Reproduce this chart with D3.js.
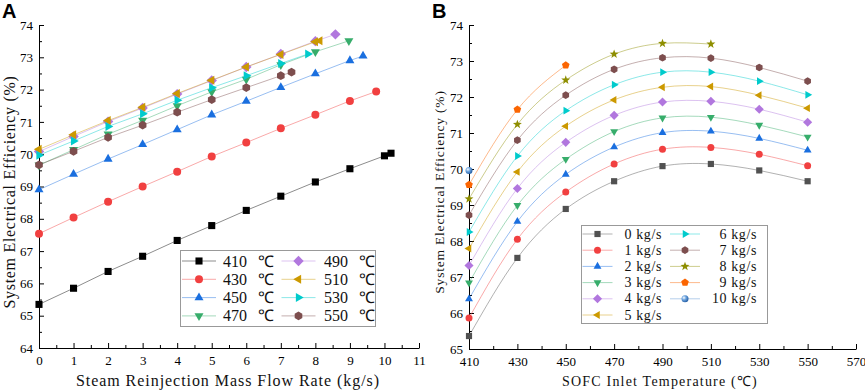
<!DOCTYPE html>
<html>
<head>
<meta charset="utf-8">
<script src="https://cdn.jsdelivr.net/npm/d3@7"></script>
<style>
body { margin: 0; background: #fff; }
.tick text { font-family: "Liberation Serif", serif; fill: #000; }
.serif { font-family: "Liberation Serif", serif; fill: #111; }
</style>
</head>
<body>
<svg id="chart" width="865" height="391"></svg>
<script>
// ---- panel A : efficiency vs steam reinjection flow, one series per SOFC inlet temperature
var tempLabels = ["410", "430", "450", "470", "490", "510", "530", "550"];
var flowA = [
    [0, 1, 2, 3, 4, 5, 6, 7, 8, 9, 10, 10.19],
    [0, 1, 2, 3, 4, 5, 6, 7, 8, 9, 9.76],
    [0, 1, 2, 3, 4, 5, 6, 7, 8, 9, 9.38],
    [0, 1, 2, 3, 4, 5, 6, 7, 8, 8.97],
    [0, 1, 2, 3, 4, 5, 6, 7, 8, 8.58],
    [0, 1, 2, 3, 4, 5, 6, 7, 8, 8.13],
    [0, 1, 2, 3, 4, 5, 6, 7, 7.78],
    [0, 1, 2, 3, 4, 5, 6, 7, 7.31]
];
var effA = [
    [65.35, 65.85, 66.37, 66.84, 67.33, 67.79, 68.26, 68.70, 69.14, 69.55, 69.95, 70.03],
    [67.54, 68.04, 68.53, 69.00, 69.46, 69.93, 70.36, 70.80, 71.22, 71.65, 71.94],
    [68.90, 69.38, 69.85, 70.30, 70.76, 71.22, 71.64, 72.07, 72.49, 72.90, 73.04],
    [69.66, 70.14, 70.62, 71.05, 71.50, 71.93, 72.32, 72.77, 73.17, 73.51],
    [70.08, 70.55, 71.01, 71.43, 71.86, 72.28, 72.70, 73.10, 73.50, 73.71],
    [70.15, 70.60, 71.04, 71.45, 71.88, 72.29, 72.70, 73.09, 73.48, 73.51],
    [69.97, 70.41, 70.86, 71.25, 71.67, 72.06, 72.43, 72.81, 73.10],
    [69.67, 70.09, 70.52, 70.90, 71.30, 71.69, 72.06, 72.43, 72.54]
];

// ---- panel B : efficiency vs SOFC inlet temperature, one series per flow rate
var inletTemps = [410, 430, 450, 470, 490, 510, 530, 550];
var flowLabels = ["0", "1", "2", "3", "4", "5", "6", "7", "8", "9", "10"];
var effB = [
    [65.36, 67.53, 68.89, 69.66, 70.08, 70.14, 69.96, 69.66],
    [65.86, 68.05, 69.36, 70.14, 70.55, 70.60, 70.41, 70.09],
    [66.39, 68.54, 69.85, 70.61, 71.01, 71.05, 70.85, 70.52],
    [66.84, 68.99, 70.27, 71.04, 71.42, 71.44, 71.22, 70.89],
    [67.32, 69.46, 70.74, 71.49, 71.86, 71.88, 71.66, 71.30],
    [67.79, 69.92, 71.19, 71.92, 72.27, 72.29, 72.05, 71.69],
    [68.25, 70.36, 71.62, 72.34, 72.69, 72.69, 72.44, 72.06],
    [68.72, 70.80, 72.05, 72.77, 73.09, 73.08, 72.82, 72.44],
    [69.17, 71.24, 72.47, 73.19, 73.49, 73.47],
    [69.56, 71.65, 72.88],
    [69.96]
];

// styles
var colorsA = ["#000000", "#F14040", "#1A6FDF", "#37AD6B", "#B177DE", "#CC9900", "#00CBCC", "#7D4E4E"];
var shapesA = ["square", "circle", "up", "down", "diamond", "left", "right", "hexagon"];
var colorsB = ["#515151", "#F14040", "#1A6FDF", "#37AD6B", "#B177DE", "#CC9900", "#00CBCC", "#7D4E4E", "#8E8E00", "#FB6501", "#5B93D3"];
var shapesB = ["square", "circle", "up", "down", "diamond", "left", "right", "hexagon", "star", "pentagon", "sphere"];

var svg = d3.select("#chart");

// sphere gradient for the 10 kg/s marker
var grad = svg.append("defs").append("radialGradient").attr("id", "ball")
    .attr("cx", "35%").attr("cy", "35%").attr("r", "65%");
grad.append("stop").attr("offset", "0%").attr("stop-color", "#ffffff");
grad.append("stop").attr("offset", "45%").attr("stop-color", "#6fa6e0");
grad.append("stop").attr("offset", "100%").attr("stop-color", "#2a63a8");

function poly(n, r, start) {
    var pts = [];
    for (var i = 0; i < n; i++) {
        var a = start + i * 2 * Math.PI / n;
        pts.push([r * Math.cos(a), r * Math.sin(a)]);
    }
    return "M" + pts.map(function (p) { return p[0].toFixed(2) + "," + p[1].toFixed(2); }).join("L") + "Z";
}

function markerPath(shape, r) {
    var D = Math.PI / 180;
    if (shape == "square") return poly(4, r * 1.25, 45 * D);
    if (shape == "circle" || shape == "sphere") return d3.symbol(d3.symbolCircle, Math.PI * r * r)();
    if (shape == "up") return poly(3, r * 1.3, -90 * D);
    if (shape == "down") return poly(3, r * 1.3, 90 * D);
    if (shape == "left") return poly(3, r * 1.3, 180 * D);
    if (shape == "right") return poly(3, r * 1.3, 0);
    if (shape == "diamond") return poly(4, r * 1.3, 0);
    if (shape == "hexagon") return poly(6, r * 1.1, -90 * D);
    if (shape == "pentagon") return poly(5, r * 1.15, -90 * D);
    if (shape == "star") {
        var pts = [];
        for (var i = 0; i < 10; i++) {
            var rr = i % 2 == 0 ? r * 1.35 : r * 0.55;
            var a = -90 * D + i * 36 * D;
            pts.push([rr * Math.cos(a), rr * Math.sin(a)]);
        }
        return "M" + pts.map(function (p) { return p[0].toFixed(2) + "," + p[1].toFixed(2); }).join("L") + "Z";
    }
}

function drawMarker(g, shape, color, x, y, r) {
    g.append("path")
        .attr("d", markerPath(shape, r))
        .attr("transform", "translate(" + x + "," + y + ")")
        .attr("fill", shape == "sphere" ? "url(#ball)" : color);
}

function drawAxes(x, y, xMajor, xMinor, yMajor, yMinor, xFmt) {
    var g = svg.append("g");
    var bottom = y.range()[0], left = x.range()[0];
    g.append("g").attr("transform", "translate(0," + bottom + ")")
        .call(d3.axisBottom(x).tickValues(xMajor).tickSize(-5).tickSizeOuter(0).tickPadding(8).tickFormat(xFmt));
    g.append("g").attr("transform", "translate(0," + bottom + ")")
        .call(d3.axisBottom(x).tickValues(xMinor).tickSize(-3).tickFormat(""))
        .select(".domain").remove();
    g.append("g").attr("transform", "translate(" + left + ",0)")
        .call(d3.axisLeft(y).tickValues(yMajor).tickSize(-5).tickSizeOuter(0).tickPadding(6).tickFormat(d3.format("d")));
    g.append("g").attr("transform", "translate(" + left + ",0)")
        .call(d3.axisLeft(y).tickValues(yMinor).tickSize(-3).tickFormat(""))
        .select(".domain").remove();
    g.selectAll(".tick text").style("font-size", "13px");
    g.selectAll("line, path").attr("stroke", "#000").attr("stroke-width", 1);
    return g;
}

/* ---------------- panel A ---------------- */
var xA = d3.scaleLinear().domain([0, 11]).range([39, 419]);
var yA = d3.scaleLinear().domain([64, 74]).range([348, 25]);

drawAxes(xA, yA, d3.range(0, 12), d3.range(0.5, 11, 1), d3.range(64, 75), d3.range(64.5, 74, 1), d3.format("d"));

var lineA = d3.line().x(function (d) { return xA(d[0]); }).y(function (d) { return yA(d[1]); });
var plotA = svg.append("g");
effA.forEach(function (ys, i) {
    var pts = ys.map(function (v, j) { return [flowA[i][j], v]; });
    var s = plotA.append("g");
    s.append("path").attr("d", lineA(pts)).attr("fill", "none")
        .attr("stroke", colorsA[i]).attr("stroke-opacity", 0.45).attr("stroke-width", 1);
    pts.forEach(function (p) { drawMarker(s, shapesA[i], colorsA[i], xA(p[0]), yA(p[1]), 4); });
});

// legend A
var legA = svg.append("g");
legA.append("rect").attr("x", 180.5).attr("y", 250.5).attr("width", 195).attr("height", 76)
    .attr("fill", "#fff").attr("stroke", "#999");
tempLabels.forEach(function (t, i) {
    var col = Math.floor(i / 4), row = i % 4;
    var cx = col == 0 ? 199 : 298.5, ty = 261 + row * 18.3;
    legA.append("line").attr("x1", cx - 17).attr("x2", cx + 17).attr("y1", ty).attr("y2", ty)
        .attr("stroke", colorsA[i]).attr("stroke-opacity", 0.45);
    drawMarker(legA, shapesA[i], colorsA[i], cx, ty, 4);
    var tx = col == 0 ? 223 : 324;
    var txt = legA.append("text").attr("class", "serif").attr("y", ty + 5.5).style("font-size", "16px");
    txt.append("tspan").attr("x", tx).text(t);
    txt.append("tspan").attr("x", tx + 35).text("℃");
});

svg.append("text").attr("class", "serif").attr("x", 228).attr("y", 386)
    .attr("text-anchor", "middle").style("font-size", "16px").style("letter-spacing", "0.95px")
    .text("Steam Reinjection Mass Flow Rate (kg/s)");
svg.append("text").attr("class", "serif").attr("transform", "translate(15,192) rotate(-90)")
    .attr("text-anchor", "middle").style("font-size", "16px").style("letter-spacing", "0.7px")
    .text("System Electrical Efficiency (%)");
svg.append("text").attr("x", 2).attr("y", 18).style("font-family", "Liberation Sans, Arial, sans-serif")
    .style("font-weight", "bold").style("font-size", "20px").text("A");

/* ---------------- panel B ---------------- */
var xB = d3.scaleLinear().domain([410, 570]).range([469, 856]);
var yB = d3.scaleLinear().domain([65, 74]).range([349, 25]);

drawAxes(xB, yB, d3.range(410, 571, 20), d3.range(420, 570, 20), d3.range(65, 75), d3.range(65.5, 74, 1), d3.format("d"));

var lineB = d3.line().curve(d3.curveNatural)
    .x(function (d) { return xB(d[0]); }).y(function (d) { return yB(d[1]); });
var plotB = svg.append("g");
effB.forEach(function (ys, i) {
    var pts = ys.map(function (v, j) { return [inletTemps[j], v]; });
    var s = plotB.append("g");
    if (pts.length > 1) {
        s.append("path").attr("d", lineB(pts)).attr("fill", "none")
            .attr("stroke", colorsB[i]).attr("stroke-opacity", 0.45).attr("stroke-width", 1);
    }
    pts.forEach(function (p) { drawMarker(s, shapesB[i], colorsB[i], xB(p[0]), yB(p[1]), 3.5); });
});

// legend B
var legB = svg.append("g");
legB.append("rect").attr("x", 581.5).attr("y", 225.5).attr("width", 186).attr("height", 98)
    .attr("fill", "#fff").attr("stroke", "#999");
flowLabels.forEach(function (f, i) {
    var col = i < 6 ? 0 : 1, row = col == 0 ? i : i - 6;
    var cx = col == 0 ? 597.5 : 685, ty = 234 + row * 16.2;
    legB.append("line").attr("x1", cx - 15).attr("x2", cx + 15).attr("y1", ty).attr("y2", ty)
        .attr("stroke", colorsB[i]).attr("stroke-opacity", 0.45);
    drawMarker(legB, shapesB[i], colorsB[i], cx, ty, 3.5);
    legB.append("text").attr("class", "serif").attr("x", col == 0 ? 662 : 757).attr("y", ty + 4.5)
        .attr("text-anchor", "end").style("font-size", "14px").style("letter-spacing", "0.6px")
        .text(f + " kg/s");
});

svg.append("text").attr("class", "serif").attr("x", 660).attr("y", 386)
    .attr("text-anchor", "middle").style("font-size", "14px").style("letter-spacing", "1.2px")
    .text("SOFC Inlet Temperature (℃)");
svg.append("text").attr("class", "serif").attr("transform", "translate(444,192) rotate(-90)")
    .attr("text-anchor", "middle").style("font-size", "13.5px").style("letter-spacing", "0.8px")
    .text("System Electrical Efficiency (%)");
svg.append("text").attr("x", 432).attr("y", 18).style("font-family", "Liberation Sans, Arial, sans-serif")
    .style("font-weight", "bold").style("font-size", "20px").text("B");
</script>
</body>
</html>
